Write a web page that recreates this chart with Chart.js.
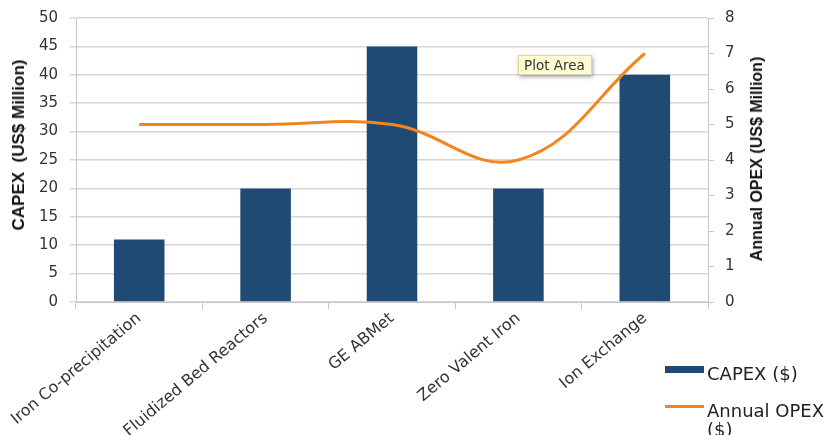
<!DOCTYPE html>
<html>
<head>
<meta charset="utf-8">
<script src="https://cdn.jsdelivr.net/npm/chart.js@4"></script>
<style>
  html, body { margin: 0; padding: 0; background: #fff; }
  #wrap { position: relative; width: 831px; height: 435px; overflow: hidden; font-family: "DejaVu Sans", sans-serif; }
  #c { position: absolute; left: 0; top: -3px; }
  .leg { position: absolute; font-size: 18px; color: #222; line-height: 19px; white-space: nowrap; }
  .sw { position: absolute; }
  .ttl { position: absolute; transform: translate(-50%, -50%) rotate(-90deg); white-space: pre; font-family: "Liberation Sans", Arial, sans-serif; font-weight: bold; color: #111; }
  #tip { position: absolute; left: 518px; top: 55px; height: 18px; line-height: 18px; padding: 0 6px 0 5px; background: #fdfbd0; border: 1px solid #d9d6a8; font-size: 13.5px; color: #333; box-shadow: 1px 2px 4px rgba(0,0,0,0.35); }
</style>
</head>
<body>
<div id="wrap">
  <canvas id="c" width="831" height="438"></canvas>
  <div class="ttl" style="left:19px; top:145px; font-size:17px;">CAPEX  (US$ Million)</div>
  <div class="ttl" style="left:757px; top:159px; font-size:16px;">Annual OPEX (US$ Million)</div>
  <div class="sw" style="left:665px; top:366px; width:39px; height:7px; background:#1f4a73;"></div>
  <div class="leg" style="left:707px; top:364px;">CAPEX ($)</div>
  <div class="sw" style="left:665px; top:405px; width:39px; height:3px; background:#f0861e;"></div>
  <div class="leg" style="left:707px; top:401px;">Annual OPEX<br>($)</div>
  <div id="tip">Plot Area</div>
</div>
<script>
const categories = ["Iron Co-precipitation", "Fluidized Bed Reactors", "GE ABMet", "Zero Valent Iron", "Ion Exchange"];
const capex = [11, 20, 45, 20, 40];
const opex = [5, 5, 5, 4, 7];

const ctx = document.getElementById('c').getContext('2d');
new Chart(ctx, {
  data: {
    labels: categories,
    datasets: [
      {
        type: 'line', label: 'Annual OPEX ($)', data: opex, yAxisID: 'y2',
        borderColor: '#f0861e', borderWidth: 3, tension: 0.4, pointRadius: 0, fill: false, order: 0
      },
      {
        type: 'bar', label: 'CAPEX ($)', data: capex, yAxisID: 'y',
        backgroundColor: '#1f4a73', categoryPercentage: 1, barPercentage: 0.4, order: 1
      }
    ]
  },
  options: {
    responsive: false,
    animation: false,
    events: [],
    layout: { padding: { top: 0, right: 0, left: 0, bottom: 0 } },
    plugins: { legend: { display: false }, tooltip: { enabled: false } },
    scales: {
      x: {
        grid: { display: true, drawOnChartArea: false, drawTicks: true, tickLength: 7, offset: true, color: '#c8c8c8' },
        border: { color: '#c8c8c8' },
        ticks: { color: '#333', font: { family: 'DejaVu Sans', size: 16 }, maxRotation: 40, minRotation: 40, padding: 0 },
        afterFit: s => { s.height = 133; }
      },
      y: {
        position: 'left', min: 0, max: 50,
        ticks: { stepSize: 5, color: '#333', font: { family: 'DejaVu Sans', size: 15 }, padding: 12 },
        grid: { color: '#d6d6d6', tickLength: 6, lineWidth: 1.5 },
        border: { color: '#c8c8c8' },
        afterFit: s => { s.width = 76; }
      },
      y2: {
        position: 'right', min: 0, max: 8,
        ticks: { stepSize: 1, color: '#333', font: { family: 'DejaVu Sans', size: 15 }, padding: 11 },
        grid: { drawOnChartArea: false, color: '#c8c8c8', tickLength: 6 },
        border: { color: '#c8c8c8' },
        afterFit: s => { s.width = 123; }
      }
    }
  }
});
</script>
</body>
</html>
